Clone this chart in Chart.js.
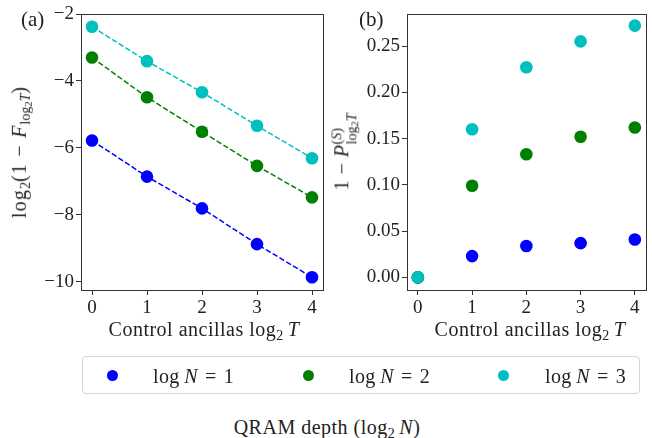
<!DOCTYPE html>
<html>
<head>
<meta charset="utf-8">
<script src="https://cdn.jsdelivr.net/npm/chart.js@4.4.1/dist/chart.umd.min.js"></script>
<style>
  html, body { margin:0; padding:0; background:#fff; }
  body { width:652px; height:438px; position:relative; overflow:hidden;
         font-family:"Liberation Serif","DejaVu Serif",serif; color:#222; }
  canvas { position:absolute; top:0; }
  .t { position:absolute; white-space:nowrap; font-size:20px; line-height:1; letter-spacing:0.5px; }
  .rot { transform: translate(-50%,-50%) rotate(-90deg); }
  .ctr { transform: translate(-50%,-50%); }
  sub { font-size:0.7em; vertical-align:-0.3em; line-height:0; letter-spacing:0; }
  sub sub { font-size:0.75em; vertical-align:-0.2em; }
  .stack { display:inline-block; vertical-align:-0.55em; font-size:0.7em; line-height:1.05; text-align:left; letter-spacing:0; }
  .stack > span { display:block; }
  .stack sub { font-size:0.75em; vertical-align:-0.2em; }
  #legend { position:absolute; left:82px; top:356px; width:558px; height:38px;
            border:1px solid #d4d4d4; border-radius:4px; box-sizing:border-box; }
  .dot { position:absolute; width:11px; height:11px; border-radius:50%; top:13px; }
  .lt { position:absolute; top:9px; font-size:20px; white-space:nowrap; line-height:1; letter-spacing:0.4px; }
</style>
</head>
<body>
<canvas id="c1" width="330" height="340" style="left:0px"></canvas>
<canvas id="c2" width="322" height="340" style="left:330px"></canvas>

<div class="t" style="left:21px; top:9px; font-size:21px; letter-spacing:0;">(a)</div>
<div class="t" style="left:359px; top:9px; font-size:21px; letter-spacing:0;">(b)</div>

<div class="t ctr" style="left:204px; top:329px;">Control ancillas log<sub>2</sub>&#8201;<i>T</i></div>
<div class="t ctr" style="left:530px; top:329px;">Control ancillas log<sub>2</sub>&#8201;<i>T</i></div>

<div class="t rot" style="left:19px; top:152px; letter-spacing:1.2px;">log<sub>2</sub>(1 − <i>F</i><sub>log<sub>2</sub><i>T</i></sub>)</div>
<div class="t rot" style="left:345px; top:152px;">1 − <i>P</i><span class="stack"><span>(<i>S</i>)</span><span>log<sub>2</sub><i>T</i></span></span></div>

<div id="legend"></div>
<div class="t ctr" style="left:327px; top:427px;">QRAM depth (log<sub>2</sub>&#8201;<i>N</i>)</div>

<script>
// ---------- data ----------
const controlAncillas = [0, 1, 2, 3, 4];
const seriesNames = ["1", "2", "3"];
const seriesColors = ["#0000ff", "#008000", "#00bfbf"];

// panel (a): log2(1 - F)
const infidelityN1 = [-5.78, -6.86, -7.81, -8.88, -9.87];
const infidelityN2 = [-3.30, -4.49, -5.52, -6.54, -7.48];
const infidelityN3 = [-2.38, -3.41, -4.34, -5.34, -6.31];

// panel (b): 1 - P^(S)
const failureN1 = [0.0, 0.023, 0.034, 0.037, 0.041];
const failureN2 = [0.0, 0.099, 0.133, 0.152, 0.162];
const failureN3 = [0.0, 0.160, 0.227, 0.255, 0.272];

const xTicks = [0, 1, 2, 3, 4];
const leftYTicks = [-10, -8, -6, -4, -2];
const rightYTicks = [0, 0.05, 0.10, 0.15, 0.20, 0.25];

// ---------- helpers ----------
const FONT = { family: '"Liberation Serif","DejaVu Serif",serif', size: 19 };
const AX = '#333';
const fmtMinus = v => String(v).replace('-', '\u2212');

const framePlugin = {
  id: 'frame',
  afterDraw(chart) {
    const { ctx, chartArea: a } = chart;
    ctx.save();
    ctx.strokeStyle = AX;
    ctx.lineWidth = 1;
    ctx.strokeRect(Math.round(a.left) + 0.5, Math.round(a.top) + 0.5,
                   Math.round(a.right - a.left), Math.round(a.bottom - a.top));
    ctx.restore();
  }
};

function toPts(arr) { return controlAncillas.map((x, i) => ({ x: x, y: arr[i] })); }

function axes(yMin, yMax, yTickVals, yFmt, yWidth) {
  return {
    x: {
      type: 'linear', min: -0.2, max: 4.2,
      afterBuildTicks: s => { s.ticks = xTicks.map(v => ({ value: v })); },
      afterFit: s => { s.height = 50; },
      border: { display: false },
      grid: { display: true, drawOnChartArea: false, drawTicks: true, tickLength: 5, color: AX, lineWidth: 1 },
      ticks: { font: FONT, color: '#222', padding: 2, maxRotation: 0, callback: v => fmtMinus(v) }
    },
    y: {
      type: 'linear', min: yMin, max: yMax,
      afterBuildTicks: s => { s.ticks = yTickVals.map(v => ({ value: v })); },
      afterFit: s => { s.width = yWidth; },
      border: { display: false },
      grid: { display: true, drawOnChartArea: false, drawTicks: true, tickLength: 5, color: AX, lineWidth: 1 },
      ticks: { font: FONT, color: '#222', padding: 2, callback: yFmt }
    }
  };
}

const common = {
  responsive: false, animation: false, devicePixelRatio: 1,
  plugins: { legend: { display: false }, tooltip: { enabled: false } }
};

// ---------- panel (a) ----------
const leftSeries = [infidelityN1, infidelityN2, infidelityN3];
new Chart(document.getElementById('c1'), {
  type: 'scatter',
  data: {
    datasets: leftSeries.map((arr, i) => ({
      label: 'log N = ' + seriesNames[i],
      data: toPts(arr),
      showLine: true,
      borderColor: seriesColors[i],
      backgroundColor: seriesColors[i],
      borderWidth: 1.5,
      borderDash: [5.5, 2.4],
      pointRadius: 6.3,
      pointBorderWidth: 0,
      pointBackgroundColor: seriesColors[i],
      order: 3 - i
    }))
  },
  options: Object.assign({}, common, {
    layout: { padding: { left: 0, top: 14, right: 7, bottom: 0 } },
    scales: axes(-10.25, -2.0, leftYTicks, v => fmtMinus(v), 81)
  }),
  plugins: [framePlugin]
});

// ---------- panel (b) ----------
const rightSeries = [failureN1, failureN2, failureN3];
new Chart(document.getElementById('c2'), {
  type: 'scatter',
  data: {
    datasets: rightSeries.map((arr, i) => ({
      label: 'log N = ' + seriesNames[i],
      data: toPts(arr),
      showLine: false,
      backgroundColor: seriesColors[i],
      pointRadius: 6.3,
      pointBorderWidth: 0,
      pointBackgroundColor: seriesColors[i],
      order: 3 - i
    }))
  },
  options: Object.assign({}, common, {
    layout: { padding: { left: 0, top: 14, right: 2, bottom: 0 } },
    scales: axes(-0.0136, 0.2846, rightYTicks, v => Number(v).toFixed(2), 77)
  }),
  plugins: [framePlugin]
});

// ---------- legend ----------
const legend = document.getElementById('legend');
const dotX = [29, 225, 420];
const txtX = [70, 266, 462];
seriesNames.forEach((n, i) => {
  const d = document.createElement('div');
  d.className = 'dot';
  d.style.left = (dotX[i] - 5) + 'px';
  d.style.background = seriesColors[i];
  legend.appendChild(d);
  const t = document.createElement('div');
  t.className = 'lt';
  t.style.left = txtX[i] + 'px';
  t.innerHTML = 'log&#8201;<i>N</i>&#8196;=&#8196;' + n;
  legend.appendChild(t);
});
</script>
</body>
</html>
